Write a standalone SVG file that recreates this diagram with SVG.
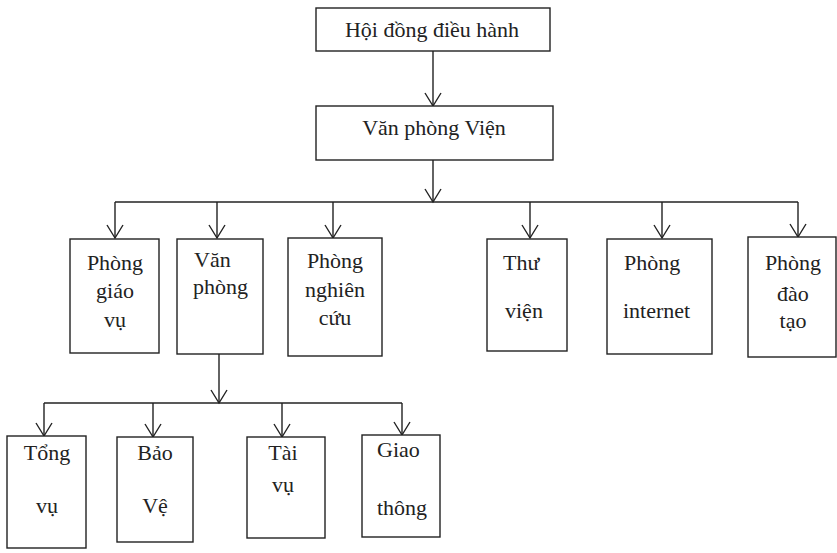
<svg xmlns="http://www.w3.org/2000/svg" width="837" height="553" viewBox="0 0 837 553">
<style>
.box{fill:#fff;stroke:#222;stroke-width:1.4}
.c{fill:none;stroke:#222;stroke-width:1.4}
text{font-family:"Liberation Serif","Times New Roman",serif;font-size:22px;fill:#222}
.m{text-anchor:middle}
</style>
<defs>
<marker id="arr" viewBox="-15 -10 17 20" refX="0" refY="0" markerWidth="17" markerHeight="20" markerUnits="userSpaceOnUse" orient="auto">
<path d="M-13,-8 L0,0 L-13,8" fill="none" stroke="#222" stroke-width="1.4"/>
</marker>
</defs>
<rect width="837" height="553" fill="#fff"/>
<g id="connectors">
<path class="c" d="M433,51 V106" marker-end="url(#arr)"/>
<path class="c" d="M433,160 V202" marker-end="url(#arr)"/>
<path class="c" d="M115,202 H798"/>
<path class="c" d="M115,202 V238" marker-end="url(#arr)"/>
<path class="c" d="M217,202 V238" marker-end="url(#arr)"/>
<path class="c" d="M333,202 V238" marker-end="url(#arr)"/>
<path class="c" d="M530,202 V238" marker-end="url(#arr)"/>
<path class="c" d="M662,202 V238" marker-end="url(#arr)"/>
<path class="c" d="M798,202 V237" marker-end="url(#arr)"/>
<path class="c" d="M219,354 V403" marker-end="url(#arr)"/>
<path class="c" d="M44,403 H402"/>
<path class="c" d="M44,403 V436" marker-end="url(#arr)"/>
<path class="c" d="M153,403 V437" marker-end="url(#arr)"/>
<path class="c" d="M282,403 V437" marker-end="url(#arr)"/>
<path class="c" d="M402,403 V435" marker-end="url(#arr)"/>
</g>
<g id="hoi-dong">
<rect class="box" x="316" y="8" width="234" height="43"/>
<text class="m" x="432" y="37">Hội đồng điều hành</text>
</g>
<g id="van-phong-vien">
<rect class="box" x="316" y="106" width="237" height="54"/>
<text class="m" x="434" y="135">Văn phòng Viện</text>
</g>
<g id="phong-giao-vu">
<rect class="box" x="70" y="239" width="89" height="114"/>
<text class="m" x="115" y="270">Phòng</text>
<text class="m" x="115" y="298">giáo</text>
<text class="m" x="115" y="327">vụ</text>
</g>
<g id="van-phong">
<rect class="box" x="177" y="239" width="86" height="115"/>
<text x="194" y="267">Văn</text>
<text x="193" y="294">phòng</text>
</g>
<g id="phong-nghien-cuu">
<rect class="box" x="288" y="238" width="94" height="118"/>
<text class="m" x="335" y="268">Phòng</text>
<text class="m" x="335" y="297">nghiên</text>
<text class="m" x="335" y="325">cứu</text>
</g>
<g id="thu-vien">
<rect class="box" x="487" y="239" width="80" height="112"/>
<text x="503" y="270">Thư</text>
<text x="505" y="318">viện</text>
</g>
<g id="phong-internet">
<rect class="box" x="607" y="239" width="105" height="115"/>
<text x="624" y="270">Phòng</text>
<text x="623" y="318">internet</text>
</g>
<g id="phong-dao-tao">
<rect class="box" x="748" y="237" width="88" height="120"/>
<text class="m" x="793" y="270">Phòng</text>
<text class="m" x="793" y="301">đào</text>
<text class="m" x="793" y="328">tạo</text>
</g>
<g id="tong-vu">
<rect class="box" x="7" y="436" width="79" height="112"/>
<text class="m" x="47" y="460">Tổng</text>
<text class="m" x="47" y="513">vụ</text>
</g>
<g id="bao-ve">
<rect class="box" x="117" y="437" width="76" height="105"/>
<text class="m" x="155" y="460">Bảo</text>
<text class="m" x="155" y="513">Vệ</text>
</g>
<g id="tai-vu">
<rect class="box" x="247" y="437" width="78" height="101"/>
<text class="m" x="283" y="460">Tài</text>
<text class="m" x="283" y="492">vụ</text>
</g>
<g id="giao-thong">
<rect class="box" x="362" y="435" width="78" height="102"/>
<text x="377" y="457">Giao</text>
<text x="377" y="515">thông</text>
</g>
</svg>
